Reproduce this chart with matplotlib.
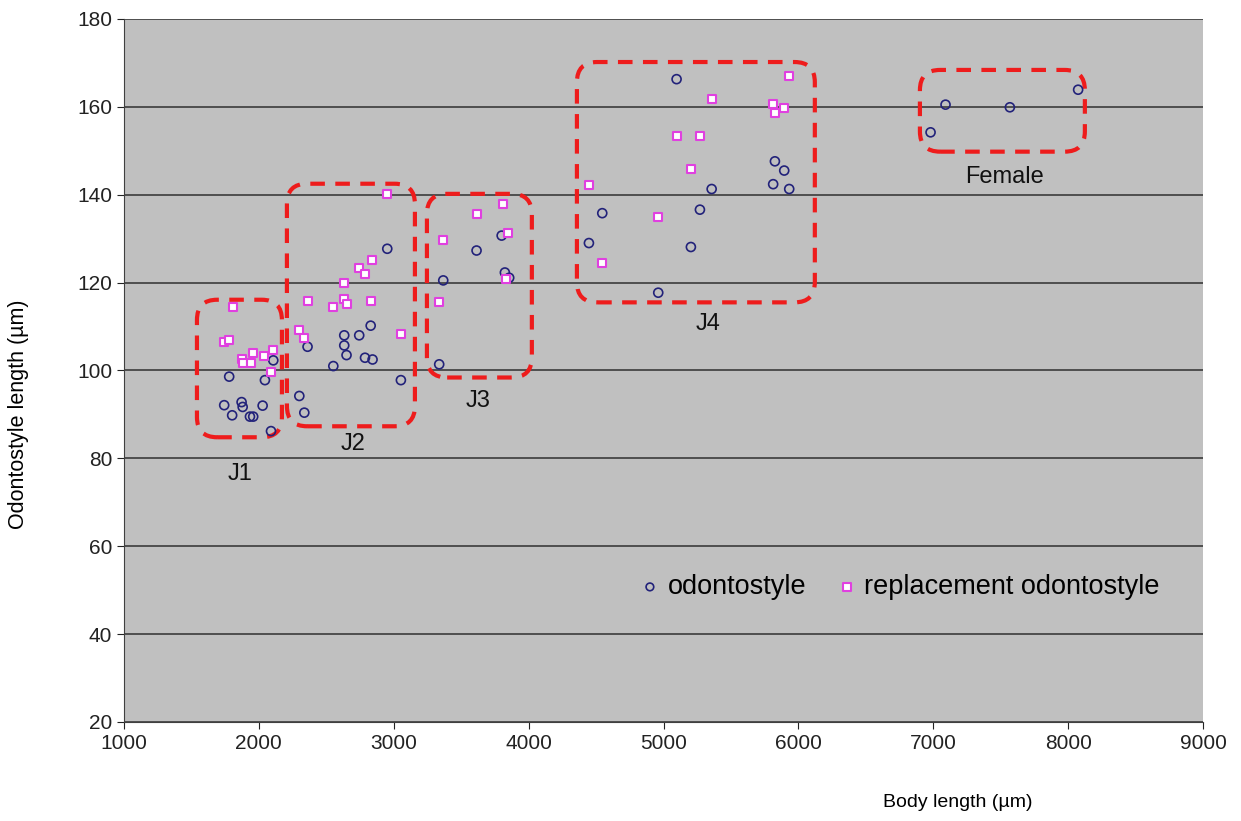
import matplotlib
matplotlib.use("Agg")
import matplotlib.pyplot as plt
from matplotlib.patches import FancyBboxPatch

plt.rcParams['font.family'] = ['Liberation Sans', 'DejaVu Sans']

# odontostyle (circles)
odo_x = [2107, 1780, 2045, 1743, 1872, 1880, 2028, 1802, 1934, 1958, 2090,
         2952, 2829, 2633, 2744, 2361, 2633, 2650, 2787, 2843, 2552, 3053, 2300, 2337,
         3800, 3614, 3824, 3856, 3367, 3337,
         5097, 5826, 5895, 5813, 5357, 5932, 4546, 5270, 4447, 5203, 4961,
         8074, 7091, 7568, 6980]
odo_y = [102.3, 98.6, 97.8, 92.1, 92.8, 91.7, 92.0, 89.8, 89.5, 89.5, 86.2,
         127.7, 110.2, 108.0, 108.0, 105.4, 105.7, 103.5, 102.9, 102.5, 101.0, 97.8, 94.2, 90.4,
         130.7, 127.3, 122.3, 121.1, 120.5, 101.4,
         166.3, 147.6, 145.5, 142.4, 141.3, 141.3, 135.8, 136.6, 129.0, 128.1, 117.7,
         163.9, 160.5, 159.9, 154.2]

# replacement odontostyle (squares)
rep_x = [1806, 1743, 1780, 1958, 2038, 2102, 1872, 1880, 1939, 2092,
         2952, 2836, 2742, 2787, 2633, 2361, 2633, 2650, 2552, 2828, 2300, 2337, 3053,
         3807, 3614, 3849, 3367, 3829, 3337,
         5932, 5357, 5813, 5895, 5826, 5097, 5270, 5203, 4447, 4961, 4546]
rep_y = [114.5, 106.4, 106.9, 104.0, 103.2, 104.6, 102.5, 101.6, 101.7, 99.6,
         140.1, 125.1, 123.3, 122.0, 119.9, 115.8, 116.3, 115.2, 114.5, 115.7, 109.2, 107.5, 108.4,
         137.8, 135.7, 131.3, 129.6, 120.8, 115.6,
         167.0, 161.8, 160.6, 159.7, 158.7, 153.4, 153.4, 145.8, 142.3, 134.9, 124.5]

# groups: name, box extents, label position
groups = ['J1', 'J2', 'J3', 'J4', 'Female']
box_x0 = [1541, 2208, 3246, 4358, 6901]
box_x1 = [2171, 3157, 4024, 6122, 8124]
box_y0 = [84.8, 87.3, 98.4, 115.5, 149.8]
box_y1 = [116.1, 142.5, 140.2, 170.2, 168.4]
lab_x = [1860, 2698, 3624, 5329, 7531]
lab_y = [76.4, 83.2, 93.0, 110.5, 144.1]

fig = plt.figure(figsize=(12.41, 8.21), dpi=100)
ax = fig.add_axes([0.0999, 0.1206, 0.8695, 0.8563])
ax.set_facecolor('#c0c0c0')

ax.set_xlim(1000, 9000)
ax.set_ylim(20, 180)
ax.set_xticks(range(1000, 9001, 1000))
ax.set_yticks(range(20, 181, 20))
ax.yaxis.grid(True, color='#303030', linewidth=1.1)
ax.set_axisbelow(True)
for s in ['top', 'right']:
    ax.spines[s].set_visible(False)
for s in ['left', 'bottom']:
    ax.spines[s].set_color('#404040')
ax.tick_params(labelsize=15, colors='#222222', length=5, direction='out')

ax.scatter(odo_x, odo_y, marker='o', s=42, facecolors='none',
           edgecolors='#22227a', linewidths=1.2, label='odontostyle', zorder=3)
ax.scatter(rep_x, rep_y, marker='s', s=40, facecolors='white',
           edgecolors='#e040e0', linewidths=1.5, label='replacement odontostyle', zorder=3)

for i in range(len(groups)):
    box = FancyBboxPatch((box_x0[i], box_y0[i]), box_x1[i] - box_x0[i], box_y1[i] - box_y0[i],
                         boxstyle='round,pad=0,rounding_size=150', mutation_aspect=1 / 32.6,
                         fill=False, edgecolor='#ee1c1c', linewidth=3,
                         linestyle=(0, (3.5, 2.5)), zorder=2)
    ax.add_patch(box)
    ax.text(lab_x[i], lab_y[i], groups[i], fontsize=17, ha='center', va='center', color='#111111')

ax.legend(loc='center right', bbox_to_anchor=(0.96, 0.192), frameon=False, ncol=2,
          fontsize=19.5, handletextpad=0.15, handlelength=1.0, columnspacing=1.0,
          borderaxespad=0, borderpad=0, markerscale=0.85)

fig.text(0.772, 0.022, 'Body length (µm)', fontsize=14, ha='center', va='center')
fig.text(0.015, 0.495, 'Odontostyle length (µm)', fontsize=15.5, ha='center', va='center',
         rotation=90)

fig.savefig('out.png', dpi=100)
